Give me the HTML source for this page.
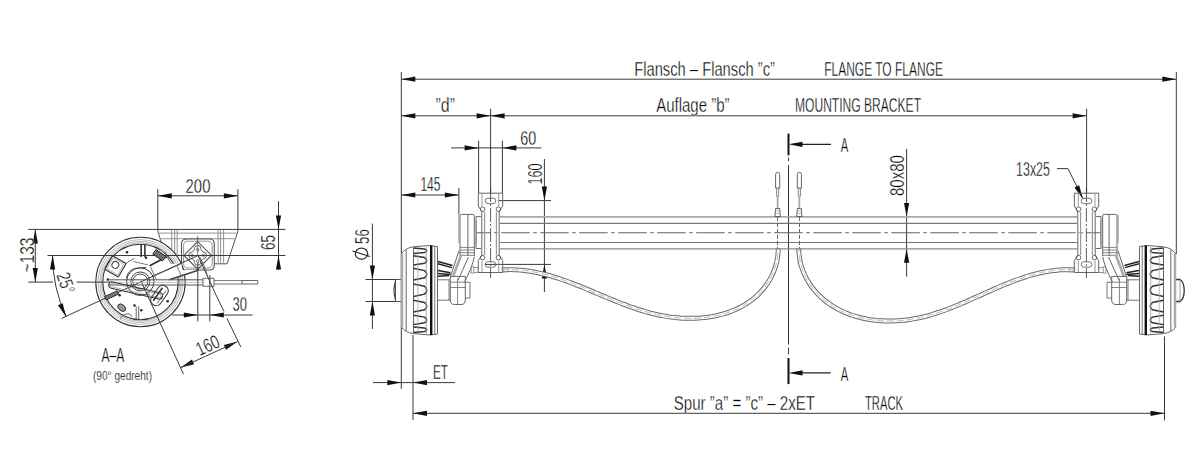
<!DOCTYPE html>
<html><head><meta charset="utf-8"><style>
html,body{margin:0;padding:0;background:#fff;}
svg{display:block;}
text{font-family:"Liberation Sans",sans-serif;fill:#000;stroke:#fff;stroke-width:0.35px;}
</style></head><body>
<svg width="1200" height="470" viewBox="0 0 1200 470" shape-rendering="geometricPrecision">
<rect width="1200" height="470" fill="#fff"/>
<line x1="401.3" y1="79.2" x2="1176.3" y2="79.2" stroke="#3a3a3a" stroke-width="1" />
<polygon points="401.30,79.20 415.30,76.60 415.30,81.80" fill="#111"/>
<polygon points="1176.30,79.20 1162.30,81.80 1162.30,76.60" fill="#111"/>
<line x1="401.3" y1="72" x2="401.3" y2="254" stroke="#3a3a3a" stroke-width="1" />
<line x1="1176.3" y1="72" x2="1176.3" y2="254" stroke="#3a3a3a" stroke-width="1" />
<line x1="401.3" y1="115.8" x2="1086.6" y2="115.8" stroke="#3a3a3a" stroke-width="1" />
<polygon points="401.30,115.80 415.30,113.20 415.30,118.40" fill="#111"/>
<polygon points="490.60,115.80 476.60,118.40 476.60,113.20" fill="#111"/>
<polygon points="490.60,115.80 504.60,113.20 504.60,118.40" fill="#111"/>
<polygon points="1086.60,115.80 1072.60,118.40 1072.60,113.20" fill="#111"/>
<line x1="490.6" y1="108.8" x2="490.6" y2="193" stroke="#3a3a3a" stroke-width="1" />
<line x1="1086.6" y1="108.7" x2="1086.6" y2="193" stroke="#3a3a3a" stroke-width="1" />
<line x1="478.6" y1="140.7" x2="478.6" y2="193" stroke="#3a3a3a" stroke-width="1" />
<line x1="502.4" y1="140.7" x2="502.4" y2="193" stroke="#3a3a3a" stroke-width="1" />
<line x1="451" y1="147.9" x2="541.4" y2="147.9" stroke="#3a3a3a" stroke-width="1" />
<polygon points="478.60,147.90 464.60,150.50 464.60,145.30" fill="#111"/>
<polygon points="502.40,147.90 516.40,145.30 516.40,150.50" fill="#111"/>
<line x1="401.3" y1="195" x2="458.9" y2="195" stroke="#3a3a3a" stroke-width="1" />
<line x1="458.9" y1="188" x2="458.9" y2="214.4" stroke="#3a3a3a" stroke-width="1" />
<polygon points="401.30,195.00 415.30,192.40 415.30,197.60" fill="#111"/>
<polygon points="458.90,195.00 444.90,197.60 444.90,192.40" fill="#111"/>
<line x1="544.4" y1="159" x2="544.4" y2="292" stroke="#3a3a3a" stroke-width="1" />
<line x1="498" y1="200.6" x2="551" y2="200.6" stroke="#3a3a3a" stroke-width="1" />
<line x1="485" y1="264.4" x2="551" y2="264.4" stroke="#3a3a3a" stroke-width="1" />
<polygon points="544.40,200.60 541.80,186.60 547.00,186.60" fill="#111"/>
<polygon points="544.40,264.40 547.00,278.40 541.80,278.40" fill="#111"/>
<line x1="372.4" y1="223.6" x2="372.4" y2="329" stroke="#3a3a3a" stroke-width="1" />
<line x1="365.5" y1="279.5" x2="401" y2="279.5" stroke="#3a3a3a" stroke-width="1" />
<line x1="365.5" y1="301.5" x2="401" y2="301.5" stroke="#3a3a3a" stroke-width="1" />
<polygon points="372.40,279.50 369.80,265.50 375.00,265.50" fill="#111"/>
<polygon points="372.40,301.50 375.00,315.50 369.80,315.50" fill="#111"/>
<ellipse cx="361.5" cy="253.7" rx="6.2" ry="5.6" fill="none" stroke="#2a2a2a" stroke-width="1.2"/>
<line x1="352.5" y1="251" x2="370" y2="256.5" stroke="#2a2a2a" stroke-width="1.2" />
<line x1="401.3" y1="254" x2="401.3" y2="389" stroke="#3a3a3a" stroke-width="1" />
<line x1="413" y1="335" x2="413" y2="420" stroke="#3a3a3a" stroke-width="1" />
<line x1="373" y1="382.6" x2="455" y2="382.6" stroke="#3a3a3a" stroke-width="1" />
<polygon points="401.30,382.60 387.30,385.20 387.30,380.00" fill="#111"/>
<polygon points="413.00,382.60 427.00,380.00 427.00,385.20" fill="#111"/>
<line x1="413" y1="413.3" x2="1164.5" y2="413.3" stroke="#3a3a3a" stroke-width="1" />
<polygon points="413.00,413.30 427.00,410.70 427.00,415.90" fill="#111"/>
<polygon points="1164.50,413.30 1150.50,415.90 1150.50,410.70" fill="#111"/>
<line x1="1164.5" y1="336.4" x2="1164.5" y2="420.4" stroke="#3a3a3a" stroke-width="1" />
<line x1="788.5" y1="133.6" x2="788.5" y2="155.3" stroke="#111" stroke-width="2" />
<line x1="788.5" y1="358" x2="788.5" y2="384.1" stroke="#111" stroke-width="2" />
<line x1="788.5" y1="157.4" x2="788.5" y2="161.3" stroke="#3a3a3a" stroke-width="1" />
<line x1="788.5" y1="165.1" x2="788.5" y2="344.6" stroke="#3a3a3a" stroke-width="1" />
<line x1="788.5" y1="347.6" x2="788.5" y2="354.3" stroke="#3a3a3a" stroke-width="1" />
<line x1="795" y1="144.3" x2="831" y2="144.3" stroke="#222" stroke-width="1.3" />
<polygon points="788.50,144.30 802.50,141.70 802.50,146.90" fill="#111"/>
<line x1="795" y1="372.9" x2="830.8" y2="372.9" stroke="#222" stroke-width="1.3" />
<polygon points="788.50,372.90 802.50,370.30 802.50,375.50" fill="#111"/>
<line x1="906.6" y1="149" x2="906.6" y2="276.7" stroke="#3a3a3a" stroke-width="1" />
<polygon points="906.60,216.90 904.00,202.90 909.20,202.90" fill="#111"/>
<polygon points="906.60,248.70 909.20,262.70 904.00,262.70" fill="#111"/>
<path d="M1057,168.6 L1068,168.6 L1083,199" stroke="#3a3a3a" stroke-width="1" fill="none" />
<polygon points="1083.00,199.00 1074.47,187.60 1079.14,185.29" fill="#111"/>
<path d="M157.8,229.4 L158,232 L168.3,263.8 H227 L237.7,232 L237.9,229.4" stroke="#555" stroke-width="1" fill="none" />
<line x1="158.5" y1="233.1" x2="237.3" y2="233.1" stroke="#aaa" stroke-width="1.2" />
<line x1="160" y1="238.6" x2="235.5" y2="238.6" stroke="#aaa" stroke-width="1.2" />
<line x1="171.7" y1="230" x2="171.7" y2="263.8" stroke="#888" stroke-width="0.9" />
<line x1="174.7" y1="230" x2="174.7" y2="263.8" stroke="#888" stroke-width="0.9" />
<line x1="177.2" y1="230" x2="177.2" y2="263.8" stroke="#888" stroke-width="0.9" />
<line x1="218.1" y1="230" x2="218.1" y2="263.8" stroke="#888" stroke-width="0.9" />
<line x1="220.6" y1="230" x2="220.6" y2="263.8" stroke="#888" stroke-width="0.9" />
<line x1="223.6" y1="230" x2="223.6" y2="263.8" stroke="#888" stroke-width="0.9" />
<path d="M186.5,239 H209.3 Q214.3,239 214.3,244 V265 Q214.3,270 209.3,270 H186.5 Q181.5,270 181.5,265 V244 Q181.5,239 186.5,239 Z" stroke="#555" stroke-width="1.1" fill="#fff" />
<path d="M188,241.2 H208 Q212.2,241.2 212.2,245.4 V263.8 Q212.2,268 208,268 H188 Q183.6,268 183.6,263.8 V245.4 Q183.6,241.2 188,241.2 Z" stroke="#777" stroke-width="0.8" fill="none" />
<path d="M197.7,241.6 L211.5,255.4 L197.7,269.2 L183.9,255.4 Z" stroke="#555" stroke-width="1.1" fill="none" />
<path d="M197.7,245.5 q3.2,0 3.2,3.2 q0,2.2 2.2,3.2 q3.5,0 3.5,3.5 q0,3.5 -3.5,3.5 q-2.2,1 -2.2,3.2 q0,3.2 -3.2,3.2 q-3.2,0 -3.2,-3.2 q0,-2.2 -2.2,-3.2 q-3.5,0 -3.5,-3.5 q0,-3.5 3.5,-3.5 q2.2,-1 2.2,-3.2 q0,-3.2 3.2,-3.2z" stroke="#555" stroke-width="0.9" fill="none" />
<circle cx="197.7" cy="249.70000000000002" r="1.3" fill="none" stroke="#555" stroke-width="0.7"/>
<circle cx="203.39999999999998" cy="255.4" r="1.3" fill="none" stroke="#555" stroke-width="0.7"/>
<circle cx="197.7" cy="261.1" r="1.3" fill="none" stroke="#555" stroke-width="0.7"/>
<circle cx="192.0" cy="255.4" r="1.3" fill="none" stroke="#555" stroke-width="0.7"/>
<line x1="197.7" y1="236" x2="197.7" y2="255.5" stroke="#555" stroke-width="0.8" />
<circle cx="140.5" cy="282" r="44.7" fill="#fff" stroke="#333" stroke-width="1.1"/>
<circle cx="140.5" cy="282" r="42.4" fill="none" stroke="#888" stroke-width="0.6"/>
<circle cx="140.5" cy="282" r="40.6" fill="none" stroke="#888" stroke-width="0.6"/>
<circle cx="140.5" cy="282" r="39.1" fill="none" stroke="#888" stroke-width="0.6"/>
<circle cx="140.5" cy="282" r="37.7" fill="none" stroke="#333" stroke-width="1.1"/>
<path d="M126.3,278.1 Q128,269.5 136,268.3 L146.3,267.4 L149.7,265.7 L166.7,256.8 L171.4,263.8 L181.5,263.8 L181.5,270 L199,270 L169.3,279.8 L154,283 Z" stroke="none" stroke-width="0" fill="#fff" />
<line x1="28.3" y1="229.4" x2="285.4" y2="229.4" stroke="#3a3a3a" stroke-width="1" />
<line x1="47.5" y1="255.5" x2="285.4" y2="255.5" stroke="#3a3a3a" stroke-width="1" />
<line x1="28.3" y1="282.1" x2="53.2" y2="282.1" stroke="#3a3a3a" stroke-width="1" />
<line x1="76.6" y1="282.1" x2="110" y2="282.1" stroke="#3a3a3a" stroke-width="1" />
<line x1="157.8" y1="189.1" x2="157.8" y2="229.4" stroke="#3a3a3a" stroke-width="1" />
<line x1="237.9" y1="189.1" x2="237.9" y2="229.4" stroke="#3a3a3a" stroke-width="1" />
<line x1="157.8" y1="195.8" x2="237.9" y2="195.8" stroke="#3a3a3a" stroke-width="1" />
<polygon points="157.80,195.80 171.80,193.20 171.80,198.40" fill="#111"/>
<polygon points="237.90,195.80 223.90,198.40 223.90,193.20" fill="#111"/>
<line x1="278.5" y1="201.2" x2="278.5" y2="270" stroke="#3a3a3a" stroke-width="1" />
<polygon points="278.50,229.40 275.90,215.40 281.10,215.40" fill="#111"/>
<polygon points="278.50,255.50 281.10,269.50 275.90,269.50" fill="#111"/>
<line x1="35.3" y1="229.4" x2="35.3" y2="282.1" stroke="#3a3a3a" stroke-width="1" />
<polygon points="35.30,229.40 37.90,243.40 32.70,243.40" fill="#111"/>
<polygon points="35.30,282.10 32.70,268.10 37.90,268.10" fill="#111"/>
<path d="M52.60,255.5 A145.4,145.4 0 0 0 66.22,316.95" stroke="#3a3a3a" stroke-width="1" fill="none" />
<polygon points="52.60,255.50 55.20,269.50 50.00,269.50" fill="#111"/>
<polygon points="66.22,316.95 57.95,305.36 62.66,303.16" fill="#111"/>
<path d="M61.5,318.4 L198,255.5" stroke="#3a3a3a" stroke-width="1" fill="none" />
<line x1="141.2" y1="281.5" x2="183.5" y2="374.2" stroke="#3a3a3a" stroke-width="1" />
<line x1="216" y1="295" x2="224" y2="311.5" stroke="#3a3a3a" stroke-width="1" />
<line x1="227" y1="318.5" x2="240.9" y2="347.1" stroke="#3a3a3a" stroke-width="1" />
<line x1="198" y1="255.5" x2="216" y2="295" stroke="#3a3a3a" stroke-width="1" />
<polygon points="180.30,367.80 191.94,359.60 194.11,364.33" fill="#111"/>
<polygon points="237.70,341.50 226.06,349.70 223.89,344.97" fill="#111"/>
<line x1="180.3" y1="367.8" x2="237.7" y2="341.5" stroke="#3a3a3a" stroke-width="1" />
<line x1="197.8" y1="262" x2="197.8" y2="321.5" stroke="#3a3a3a" stroke-width="1" />
<line x1="209.8" y1="275" x2="209.8" y2="321.5" stroke="#3a3a3a" stroke-width="1" />
<line x1="172" y1="315" x2="252.5" y2="315" stroke="#3a3a3a" stroke-width="1" />
<polygon points="197.80,315.00 183.80,317.60 183.80,312.40" fill="#111"/>
<polygon points="209.80,315.00 223.80,312.40 223.80,317.60" fill="#111"/>
<path d="M126.3,278.1 Q128,269.5 136,268.3 L146.3,267.4" stroke="#555" stroke-width="1" fill="none" />
<path d="M149.7,265.7 L166.7,256.8" stroke="#333" stroke-width="1.8" fill="none" />
<path d="M165,251.7 L166.7,256.8 L171.4,263.8" stroke="#555" stroke-width="0.9" fill="none" />
<path d="M152.2,276.4 L180.3,264" stroke="#555" stroke-width="1.1" fill="none" />
<path d="M150.5,266.6 L156,279 M176.9,265.7 L181.2,275.5" stroke="#555" stroke-width="0.8" fill="none" />
<path d="M169.3,279.8 L199,270" stroke="#444" stroke-width="1.6" fill="none" />
<circle cx="140.3" cy="281.5" r="13.7" fill="none" stroke="#333" stroke-width="1"/>
<circle cx="140.3" cy="281.5" r="9.5" fill="none" stroke="#333" stroke-width="0.9"/>
<circle cx="140.3" cy="281.5" r="7.5" fill="none" stroke="#333" stroke-width="0.9"/>
<path d="M134.4,258.5 Q124,262 118.5,275" stroke="#555" stroke-width="0.9" fill="none" />
<path d="M133.5,261.5 L148,264.9" stroke="#555" stroke-width="0.8" fill="none" />
<g transform="translate(115.4,266.4) rotate(30)"><rect x="-7.8" y="-7.8" width="15.6" height="15.6" rx="1" fill="#fff" stroke="#333" stroke-width="1.1"/><rect x="-6.3" y="-6.3" width="12.6" height="12.6" fill="none" stroke="#888" stroke-width="0.6"/><circle cx="-0.8" cy="-1.3" r="3.4" fill="none" stroke="#333" stroke-width="1"/></g>
<path d="M141.2,244.3 V257 M144.9,244.3 V257" stroke="#333" stroke-width="1.6" fill="none" />
<circle cx="146" cy="257.8" r="1.25" fill="#222"/>
<circle cx="127" cy="252.2" r="1.25" fill="#222"/>
<circle cx="107.9" cy="279.4" r="1.25" fill="#222"/>
<circle cx="119.6" cy="295.3" r="1.25" fill="#222"/>
<circle cx="167.7" cy="301.3" r="1.25" fill="#222"/>
<circle cx="134.5" cy="305.5" r="1.25" fill="#222"/>
<circle cx="141.3" cy="310.2" r="1.25" fill="#222"/>
<g transform="translate(159.3,255.2) rotate(35)"><rect x="-6" y="-2.8" width="12" height="5.6" fill="#888" stroke="#222" stroke-width="0.9"/><path d="M-4,-2.8 V2.8 M-2,-2.8 V2.8 M0,-2.8 V2.8 M2,-2.8 V2.8 M4,-2.8 V2.8" stroke="#333" stroke-width="0.7"/></g>
<g transform="translate(111.7,295.3) rotate(-25)"><rect x="-7" y="-1.8" width="14" height="3.6" fill="#777" stroke="#222" stroke-width="0.8"/></g>
<g transform="translate(121.7,307.7) rotate(40)"><ellipse rx="4.4" ry="3" fill="#999" stroke="#222" stroke-width="0.9"/></g>
<path d="M136.2,306.4 V320 M138.7,306.4 V320" stroke="#555" stroke-width="0.9" fill="none" />
<path d="M120,318.5 Q124,313.5 128,313.6 Q131,314 132,317" stroke="#555" stroke-width="0.9" fill="none" />
<path d="M108,279.8 H203 M108,285 H203" stroke="#555" stroke-width="1" fill="none" />
<line x1="110" y1="282.4" x2="203" y2="282.4" stroke="#aaa" stroke-width="0.7" />
<path d="M203,278.3 H214 V286.3 H203 Z" stroke="#555" stroke-width="0.9" fill="none" />
<path d="M214,280.6 H242 M214,284 H242" stroke="#555" stroke-width="0.8" fill="none" />
<path d="M242,280.5 H257.8 V284 H242 Z" stroke="#555" stroke-width="0.9" fill="none" />
<g transform="translate(135.7,290.5) rotate(13)"><rect x="-27.5" y="-3.2" width="55" height="6.4" rx="3.2" fill="none" stroke="#333" stroke-width="1"/><rect x="-26" y="-1.8" width="52" height="3.6" rx="1.8" fill="none" stroke="#888" stroke-width="0.6"/></g>
<g transform="translate(159.5,295.5) rotate(-55)"><rect x="-11" y="-5.5" width="22" height="11" rx="5" fill="none" stroke="#333" stroke-width="1"/><line x1="-8" y1="-2" x2="8" y2="-2" stroke="#333" stroke-width="1.6"/><line x1="-8" y1="2.5" x2="8" y2="2.5" stroke="#555" stroke-width="0.8"/></g>
<path d="M132.3,292.8 Q138,297.5 150,294" stroke="#555" stroke-width="0.9" fill="none" />
<path d="M199.5,256.5 Q205,265 207.5,277" stroke="#555" stroke-width="0.9" fill="none" />
<path d="M501.8,269.8 L504.9,269.7 L507.9,269.6 L511.0,269.6 L514.0,269.7 L516.9,269.9 L519.9,270.1 L522.8,270.4 L525.8,270.7 L528.7,271.1 L531.6,271.6 L534.5,272.1 L537.3,272.7 L540.2,273.3 L543.0,274.0 L545.9,274.7 L548.7,275.4 L551.5,276.2 L554.3,277.1 L557.1,277.9 L559.8,278.8 L562.6,279.8 L565.4,280.7 L568.1,281.7 L570.9,282.8 L573.6,283.8 L576.3,284.9 L579.1,285.9 L581.8,287.0 L584.5,288.1 L587.2,289.3 L590.0,290.4 L592.7,291.5 L595.4,292.7 L598.1,293.8 L600.8,295.0 L603.6,296.1 L606.3,297.3 L609.0,298.4 L611.7,299.5 L614.5,300.6 L617.2,301.7 L620.0,302.8 L622.7,303.9 L625.5,304.9 L628.2,306.0 L631.0,307.0 L633.8,307.9 L636.6,308.9 L639.4,309.8 L642.2,310.7 L645.0,311.5 L647.9,312.3 L650.7,313.1 L653.6,313.8 L656.5,314.5 L659.4,315.1 L662.3,315.7 L665.2,316.2 L668.1,316.7 L671.1,317.1 L674.1,317.4 L677.0,317.7 L680.0,318.0 L683.0,318.2 L686.0,318.3 L689.0,318.3 L692.0,318.3 L695.0,318.3 L698.0,318.1 L701.0,317.9 L704.0,317.6 L706.9,317.3 L709.8,316.9 L712.7,316.4 L715.6,315.8 L718.5,315.2 L721.3,314.5 L724.1,313.7 L726.9,312.8 L729.6,311.9 L732.3,310.8 L735.0,309.7 L737.6,308.5 L740.2,307.3 L742.7,305.9 L745.1,304.5 L747.5,302.9 L749.9,301.3 L752.2,299.6 L754.4,297.8 L756.6,295.9 L758.7,293.9 L760.7,291.8 L762.6,289.6 L764.5,287.4 L766.2,285.1 L767.9,282.7 L769.4,280.2 L770.9,277.6 L772.2,275.0 L773.4,272.3 L774.5,269.5 L775.5,266.6 L776.3,263.7 L777.0,260.7 L777.5,257.6 L777.9,254.5 L778.2,251.3 L778.2,248.1" stroke="#6a6a6a" stroke-width="4.9" fill="none" />
<path d="M501.8,269.8 L504.9,269.7 L507.9,269.6 L511.0,269.6 L514.0,269.7 L516.9,269.9 L519.9,270.1 L522.8,270.4 L525.8,270.7 L528.7,271.1 L531.6,271.6 L534.5,272.1 L537.3,272.7 L540.2,273.3 L543.0,274.0 L545.9,274.7 L548.7,275.4 L551.5,276.2 L554.3,277.1 L557.1,277.9 L559.8,278.8 L562.6,279.8 L565.4,280.7 L568.1,281.7 L570.9,282.8 L573.6,283.8 L576.3,284.9 L579.1,285.9 L581.8,287.0 L584.5,288.1 L587.2,289.3 L590.0,290.4 L592.7,291.5 L595.4,292.7 L598.1,293.8 L600.8,295.0 L603.6,296.1 L606.3,297.3 L609.0,298.4 L611.7,299.5 L614.5,300.6 L617.2,301.7 L620.0,302.8 L622.7,303.9 L625.5,304.9 L628.2,306.0 L631.0,307.0 L633.8,307.9 L636.6,308.9 L639.4,309.8 L642.2,310.7 L645.0,311.5 L647.9,312.3 L650.7,313.1 L653.6,313.8 L656.5,314.5 L659.4,315.1 L662.3,315.7 L665.2,316.2 L668.1,316.7 L671.1,317.1 L674.1,317.4 L677.0,317.7 L680.0,318.0 L683.0,318.2 L686.0,318.3 L689.0,318.3 L692.0,318.3 L695.0,318.3 L698.0,318.1 L701.0,317.9 L704.0,317.6 L706.9,317.3 L709.8,316.9 L712.7,316.4 L715.6,315.8 L718.5,315.2 L721.3,314.5 L724.1,313.7 L726.9,312.8 L729.6,311.9 L732.3,310.8 L735.0,309.7 L737.6,308.5 L740.2,307.3 L742.7,305.9 L745.1,304.5 L747.5,302.9 L749.9,301.3 L752.2,299.6 L754.4,297.8 L756.6,295.9 L758.7,293.9 L760.7,291.8 L762.6,289.6 L764.5,287.4 L766.2,285.1 L767.9,282.7 L769.4,280.2 L770.9,277.6 L772.2,275.0 L773.4,272.3 L774.5,269.5 L775.5,266.6 L776.3,263.7 L777.0,260.7 L777.5,257.6 L777.9,254.5 L778.2,251.3 L778.2,248.1" stroke="#fff" stroke-width="2.9" fill="none" />
<path d="M501.8,269.8 L504.9,269.7 L507.9,269.6 L511.0,269.6 L514.0,269.7 L516.9,269.9 L519.9,270.1 L522.8,270.4 L525.8,270.7 L528.7,271.1 L531.6,271.6 L534.5,272.1 L537.3,272.7 L540.2,273.3 L543.0,274.0 L545.9,274.7 L548.7,275.4 L551.5,276.2 L554.3,277.1 L557.1,277.9 L559.8,278.8 L562.6,279.8 L565.4,280.7 L568.1,281.7 L570.9,282.8 L573.6,283.8 L576.3,284.9 L579.1,285.9 L581.8,287.0 L584.5,288.1 L587.2,289.3 L590.0,290.4 L592.7,291.5 L595.4,292.7 L598.1,293.8 L600.8,295.0 L603.6,296.1 L606.3,297.3 L609.0,298.4 L611.7,299.5 L614.5,300.6 L617.2,301.7 L620.0,302.8 L622.7,303.9 L625.5,304.9 L628.2,306.0 L631.0,307.0 L633.8,307.9 L636.6,308.9 L639.4,309.8 L642.2,310.7 L645.0,311.5 L647.9,312.3 L650.7,313.1 L653.6,313.8 L656.5,314.5 L659.4,315.1 L662.3,315.7 L665.2,316.2 L668.1,316.7 L671.1,317.1 L674.1,317.4 L677.0,317.7 L680.0,318.0 L683.0,318.2 L686.0,318.3 L689.0,318.3 L692.0,318.3 L695.0,318.3 L698.0,318.1 L701.0,317.9 L704.0,317.6 L706.9,317.3 L709.8,316.9 L712.7,316.4 L715.6,315.8 L718.5,315.2 L721.3,314.5 L724.1,313.7 L726.9,312.8 L729.6,311.9 L732.3,310.8 L735.0,309.7 L737.6,308.5 L740.2,307.3 L742.7,305.9 L745.1,304.5 L747.5,302.9 L749.9,301.3 L752.2,299.6 L754.4,297.8 L756.6,295.9 L758.7,293.9 L760.7,291.8 L762.6,289.6 L764.5,287.4 L766.2,285.1 L767.9,282.7 L769.4,280.2 L770.9,277.6 L772.2,275.0 L773.4,272.3 L774.5,269.5 L775.5,266.6 L776.3,263.7 L777.0,260.7 L777.5,257.6 L777.9,254.5 L778.2,251.3 L778.2,248.1" stroke="#aaa" stroke-width="0.8" fill="none" stroke-dasharray="7 3"/>
<path d="M1075.2,269.8 L1072.1,269.7 L1069.1,269.6 L1066.0,269.7 L1063.0,269.8 L1060.1,269.9 L1057.1,270.2 L1054.2,270.5 L1051.2,270.9 L1048.3,271.3 L1045.4,271.8 L1042.5,272.4 L1039.7,273.0 L1036.8,273.7 L1034.0,274.4 L1031.1,275.2 L1028.3,276.0 L1025.5,276.9 L1022.7,277.8 L1019.9,278.7 L1017.2,279.7 L1014.4,280.7 L1011.6,281.8 L1008.9,282.9 L1006.1,284.0 L1003.4,285.1 L1000.7,286.2 L997.9,287.4 L995.2,288.6 L992.5,289.8 L989.8,291.0 L987.0,292.2 L984.3,293.4 L981.6,294.7 L978.9,295.9 L976.2,297.1 L973.4,298.3 L970.7,299.6 L968.0,300.8 L965.3,302.0 L962.5,303.1 L959.8,304.3 L957.0,305.4 L954.3,306.6 L951.5,307.7 L948.8,308.7 L946.0,309.8 L943.2,310.8 L940.4,311.8 L937.6,312.7 L934.8,313.6 L932.0,314.5 L929.1,315.3 L926.3,316.1 L923.4,316.8 L920.5,317.5 L917.6,318.1 L914.7,318.6 L911.8,319.2 L908.9,319.6 L905.9,320.0 L902.9,320.3 L900.0,320.6 L897.0,320.8 L894.0,320.9 L891.0,321.0 L888.0,321.0 L885.0,321.0 L882.0,320.8 L879.0,320.6 L876.0,320.4 L873.0,320.0 L870.1,319.6 L867.2,319.1 L864.3,318.5 L861.4,317.9 L858.5,317.2 L855.7,316.4 L852.9,315.5 L850.1,314.6 L847.4,313.5 L844.7,312.4 L842.0,311.2 L839.4,309.9 L836.8,308.6 L834.3,307.1 L831.9,305.6 L829.5,304.0 L827.1,302.3 L824.8,300.5 L822.6,298.6 L820.4,296.6 L818.3,294.5 L816.3,292.4 L814.4,290.2 L812.5,287.9 L810.8,285.5 L809.1,283.0 L807.6,280.5 L806.1,277.9 L804.8,275.2 L803.6,272.4 L802.5,269.6 L801.5,266.7 L800.7,263.8 L800.0,260.7 L799.5,257.7 L799.1,254.5 L798.8,251.3 L798.8,248.1" stroke="#6a6a6a" stroke-width="4.9" fill="none" />
<path d="M1075.2,269.8 L1072.1,269.7 L1069.1,269.6 L1066.0,269.7 L1063.0,269.8 L1060.1,269.9 L1057.1,270.2 L1054.2,270.5 L1051.2,270.9 L1048.3,271.3 L1045.4,271.8 L1042.5,272.4 L1039.7,273.0 L1036.8,273.7 L1034.0,274.4 L1031.1,275.2 L1028.3,276.0 L1025.5,276.9 L1022.7,277.8 L1019.9,278.7 L1017.2,279.7 L1014.4,280.7 L1011.6,281.8 L1008.9,282.9 L1006.1,284.0 L1003.4,285.1 L1000.7,286.2 L997.9,287.4 L995.2,288.6 L992.5,289.8 L989.8,291.0 L987.0,292.2 L984.3,293.4 L981.6,294.7 L978.9,295.9 L976.2,297.1 L973.4,298.3 L970.7,299.6 L968.0,300.8 L965.3,302.0 L962.5,303.1 L959.8,304.3 L957.0,305.4 L954.3,306.6 L951.5,307.7 L948.8,308.7 L946.0,309.8 L943.2,310.8 L940.4,311.8 L937.6,312.7 L934.8,313.6 L932.0,314.5 L929.1,315.3 L926.3,316.1 L923.4,316.8 L920.5,317.5 L917.6,318.1 L914.7,318.6 L911.8,319.2 L908.9,319.6 L905.9,320.0 L902.9,320.3 L900.0,320.6 L897.0,320.8 L894.0,320.9 L891.0,321.0 L888.0,321.0 L885.0,321.0 L882.0,320.8 L879.0,320.6 L876.0,320.4 L873.0,320.0 L870.1,319.6 L867.2,319.1 L864.3,318.5 L861.4,317.9 L858.5,317.2 L855.7,316.4 L852.9,315.5 L850.1,314.6 L847.4,313.5 L844.7,312.4 L842.0,311.2 L839.4,309.9 L836.8,308.6 L834.3,307.1 L831.9,305.6 L829.5,304.0 L827.1,302.3 L824.8,300.5 L822.6,298.6 L820.4,296.6 L818.3,294.5 L816.3,292.4 L814.4,290.2 L812.5,287.9 L810.8,285.5 L809.1,283.0 L807.6,280.5 L806.1,277.9 L804.8,275.2 L803.6,272.4 L802.5,269.6 L801.5,266.7 L800.7,263.8 L800.0,260.7 L799.5,257.7 L799.1,254.5 L798.8,251.3 L798.8,248.1" stroke="#fff" stroke-width="2.9" fill="none" />
<path d="M1075.2,269.8 L1072.1,269.7 L1069.1,269.6 L1066.0,269.7 L1063.0,269.8 L1060.1,269.9 L1057.1,270.2 L1054.2,270.5 L1051.2,270.9 L1048.3,271.3 L1045.4,271.8 L1042.5,272.4 L1039.7,273.0 L1036.8,273.7 L1034.0,274.4 L1031.1,275.2 L1028.3,276.0 L1025.5,276.9 L1022.7,277.8 L1019.9,278.7 L1017.2,279.7 L1014.4,280.7 L1011.6,281.8 L1008.9,282.9 L1006.1,284.0 L1003.4,285.1 L1000.7,286.2 L997.9,287.4 L995.2,288.6 L992.5,289.8 L989.8,291.0 L987.0,292.2 L984.3,293.4 L981.6,294.7 L978.9,295.9 L976.2,297.1 L973.4,298.3 L970.7,299.6 L968.0,300.8 L965.3,302.0 L962.5,303.1 L959.8,304.3 L957.0,305.4 L954.3,306.6 L951.5,307.7 L948.8,308.7 L946.0,309.8 L943.2,310.8 L940.4,311.8 L937.6,312.7 L934.8,313.6 L932.0,314.5 L929.1,315.3 L926.3,316.1 L923.4,316.8 L920.5,317.5 L917.6,318.1 L914.7,318.6 L911.8,319.2 L908.9,319.6 L905.9,320.0 L902.9,320.3 L900.0,320.6 L897.0,320.8 L894.0,320.9 L891.0,321.0 L888.0,321.0 L885.0,321.0 L882.0,320.8 L879.0,320.6 L876.0,320.4 L873.0,320.0 L870.1,319.6 L867.2,319.1 L864.3,318.5 L861.4,317.9 L858.5,317.2 L855.7,316.4 L852.9,315.5 L850.1,314.6 L847.4,313.5 L844.7,312.4 L842.0,311.2 L839.4,309.9 L836.8,308.6 L834.3,307.1 L831.9,305.6 L829.5,304.0 L827.1,302.3 L824.8,300.5 L822.6,298.6 L820.4,296.6 L818.3,294.5 L816.3,292.4 L814.4,290.2 L812.5,287.9 L810.8,285.5 L809.1,283.0 L807.6,280.5 L806.1,277.9 L804.8,275.2 L803.6,272.4 L802.5,269.6 L801.5,266.7 L800.7,263.8 L800.0,260.7 L799.5,257.7 L799.1,254.5 L798.8,251.3 L798.8,248.1" stroke="#aaa" stroke-width="0.8" fill="none" stroke-dasharray="7 3"/>
<path d="M401,279.5 H395.5 V301.5 H401" stroke="#555" stroke-width="1" fill="none" />
<path d="M395.5,281 Q392.5,290.5 395.5,300" stroke="#444" stroke-width="1.2" fill="none" />
<path d="M1176,279.5 H1180 Q1184.2,282 1184.2,290.5 Q1184.2,299 1180,301.5 H1176" stroke="#333" stroke-width="1.3" fill="none" />
<path d="M1180,280 V301" stroke="#888" stroke-width="0.8" fill="none" /><text x="634.2" y="75.6" font-size="19.3" textLength="140.79999999999995" lengthAdjust="spacingAndGlyphs" >Flansch – Flansch ”c”</text>
<text x="824.2" y="75.6" font-size="19.3" textLength="118.79999999999995" lengthAdjust="spacingAndGlyphs" >FLANGE TO FLANGE</text>
<text x="435.5" y="111.8" font-size="19.3" textLength="19.5" lengthAdjust="spacingAndGlyphs" >”d”</text>
<text x="656.2" y="111.9" font-size="19.3" textLength="73.29999999999995" lengthAdjust="spacingAndGlyphs" >Auflage ”b”</text>
<text x="795" y="111.9" font-size="19.3" textLength="126" lengthAdjust="spacingAndGlyphs" >MOUNTING BRACKET</text>
<text x="520.2" y="144.7" font-size="19.3" textLength="16.0" lengthAdjust="spacingAndGlyphs" >60</text>
<text x="420.4" y="190.6" font-size="19.3" textLength="20.0" lengthAdjust="spacingAndGlyphs" >145</text>
<g transform="translate(535.3,174.1) rotate(-90)"><text x="-10.5" y="6.948" font-size="19.3" textLength="21" lengthAdjust="spacingAndGlyphs" >160</text></g>
<g transform="translate(362.2,236.5) rotate(-90)"><text x="-7.4" y="6.948" font-size="19.3" textLength="14.8" lengthAdjust="spacingAndGlyphs" >56</text></g>
<text x="433" y="379.4" font-size="19.3" textLength="15" lengthAdjust="spacingAndGlyphs" >ET</text>
<text x="673.75" y="410" font-size="19.3" textLength="141.25" lengthAdjust="spacingAndGlyphs" >Spur ”a” = ”c” – 2xET</text>
<text x="865" y="410" font-size="19.3" textLength="38" lengthAdjust="spacingAndGlyphs" >TRACK</text>
<text x="840.7" y="151.5" font-size="19.3" textLength="7.5" lengthAdjust="spacingAndGlyphs" >A</text>
<text x="840.7" y="380.7" font-size="19.3" textLength="7.5" lengthAdjust="spacingAndGlyphs" >A</text>
<g transform="translate(896.6,175.5) rotate(-90)"><text x="-20.5" y="6.948" font-size="19.3" textLength="41" lengthAdjust="spacingAndGlyphs" >80x80</text></g>
<text x="1016" y="176" font-size="19.3" textLength="34" lengthAdjust="spacingAndGlyphs" >13x25</text>
<text x="185.6" y="192.5" font-size="19.3" textLength="24.80000000000001" lengthAdjust="spacingAndGlyphs" >200</text>
<g transform="translate(267.8,242.5) rotate(-90)"><text x="-7.5" y="6.948" font-size="19.3" textLength="15" lengthAdjust="spacingAndGlyphs" >65</text></g>
<g transform="translate(27.5,255) rotate(-90)"><text x="-17.5" y="6.948" font-size="19.3" textLength="35" lengthAdjust="spacingAndGlyphs" >~133</text></g>
<g transform="translate(66.2,282.8) rotate(72)"><text x="-10.5" y="6.948" font-size="19.3" textLength="21" lengthAdjust="spacingAndGlyphs" >25°</text></g>
<g transform="translate(207.5,345) rotate(-24.6)"><text x="-12.0" y="6.948" font-size="19.3" textLength="24" lengthAdjust="spacingAndGlyphs" >160</text></g>
<text x="232.5" y="311" font-size="19.3" textLength="14.5" lengthAdjust="spacingAndGlyphs" >30</text>
<text x="101.5" y="362.2" font-size="19.3" textLength="22.900000000000006" lengthAdjust="spacingAndGlyphs" >A–A</text>
<text x="93" y="379.8" font-size="12.6" textLength="59" lengthAdjust="spacingAndGlyphs" style="fill:#333;stroke-width:0.1px">(90° gedreht)</text>
<g><line x1="500" y1="216.9" x2="788.5" y2="216.9" stroke="#aaa" stroke-width="1.8" />
<line x1="500" y1="223.4" x2="788.5" y2="223.4" stroke="#777" stroke-width="1.1" />
<line x1="500" y1="242.5" x2="788.5" y2="242.5" stroke="#777" stroke-width="1.1" />
<line x1="500" y1="248.8" x2="788.5" y2="248.8" stroke="#888" stroke-width="1.2" />
<path d="M476,232.8 L788.5,232.8" stroke="#666" stroke-width="1.1" fill="none" stroke-dasharray="28.5 3.4 3.7 3.4" stroke-dashoffset="13.8"/>
<path d="M476,216.6 H481 M476,216.6 V248.5 H481" stroke="#666" stroke-width="1" fill="none" />
<path d="M478.3,193.2 H502.7 V206 L499.2,211.5 V255.5 L502.7,260.5 V272.5 H478.3 V260.5 L481.8,255.5 V211.5 L478.3,206 Z" stroke="#666" stroke-width="1" fill="none" />
<circle cx="482.6" cy="209.2" r="2.3" fill="none" stroke="#444" stroke-width="0.8"/>
<circle cx="498.4" cy="209.2" r="2.3" fill="none" stroke="#444" stroke-width="0.8"/>
<circle cx="482.6" cy="257.6" r="2.3" fill="none" stroke="#444" stroke-width="0.8"/>
<circle cx="498.4" cy="257.6" r="2.3" fill="none" stroke="#444" stroke-width="0.8"/>
<path d="M482,194 V206 M498.7,194 V206 M482,261 V272 M498.7,261 V272" stroke="#999" stroke-width="1" fill="none" />
<path d="M484.6,212 V255 M496.4,212 V255" stroke="#999" stroke-width="1.2" fill="none" />
<path d="M487.9,198.2 H493.1 A2.7,2.7 0 0 1 493.1,203.6 H487.9 A2.7,2.7 0 0 1 487.9,198.2 Z" stroke="#666" stroke-width="0.9" fill="none" />
<path d="M487.9,261.8 H493.1 A2.7,2.7 0 0 1 493.1,267.2 H487.9 A2.7,2.7 0 0 1 487.9,261.8 Z" stroke="#666" stroke-width="0.9" fill="none" />
<path d="M490.6,188 V278" stroke="#333" stroke-width="0.8" fill="none" stroke-dasharray="14 2 2 2"/>
<path d="M460,256 V215.9 Q460,214.4 461.5,214.4 H472.8 Q474.3,214.4 474.3,215.9 V256 M467.9,214.4 V256" stroke="#666" stroke-width="1" fill="none" />
<path d="M474.3,221.3 H476.4 V243.1 H474.3" stroke="#888" stroke-width="0.8" fill="none" />
<line x1="458.9" y1="214.4" x2="458.9" y2="243.1" stroke="#999" stroke-width="1.1" />
<path d="M460,247.4 H474.3 M460,250 H474.3 M460,252.7 H474.3 M460,255.3 H474.3" stroke="#666" stroke-width="0.8" fill="none" />
<path d="M458.9,250.9 L450.4,276.9 M468.4,257.2 L457.8,280.6 M474.3,256.7 Q472,268 464.7,281.7" stroke="#666" stroke-width="1" fill="none" />
<path d="M461,255.5 L453.2,276" stroke="#aaa" stroke-width="2.6" fill="none" />
<path d="M450.3,276.4 H465.3 V300 Q465.3,304.5 461,304.5 H454.5 Q450.3,304.5 450.3,300 Z" stroke="#666" stroke-width="1" fill="none" />
<path d="M457.6,278.5 V304.5 M450.3,282.2 H465.3 M450.3,287.5 H465.3" stroke="#666" stroke-width="0.8" fill="none" />
<path d="M465.3,282.3 H470 V298.1 H465.3" stroke="#666" stroke-width="0.9" fill="none" />
<path d="M437.9,279.8 H450.3 M437.9,300.2 H450.3 M449,279.8 V300.2" stroke="#666" stroke-width="0.9" fill="none" />
<path d="M471.1,266.8 H473.8 V273.2 H471.1 Z M473.8,267.5 H478.3 V272.5 H473.8" stroke="#888" stroke-width="0.9" fill="none" />
<path d="M438,261.5 L452.5,265.5 M438,263.8 L452,267.6 M438,270.5 L450.5,272.8 M438,273.5 L450.5,274.5 M438,276.2 L449,275.5" stroke="#222" stroke-width="1.4" fill="none" />
<path d="M401.3,254 Q405,248 413.5,246.8 L430,245.5 L437.5,246.5 V334 L430,335 L413.5,333.6 Q405,332.5 401.3,327" stroke="#666" stroke-width="1" fill="none" />
<line x1="402" y1="254" x2="402" y2="327" stroke="#aaa" stroke-width="2.5" />
<line x1="406.2" y1="250" x2="406.2" y2="331" stroke="#666" stroke-width="1" />
<line x1="413.5" y1="247.5" x2="413.5" y2="333" stroke="#666" stroke-width="1" />
<line x1="431.2" y1="245.5" x2="431.2" y2="335" stroke="#111" stroke-width="2.4" />
<line x1="434.8" y1="246" x2="434.8" y2="335" stroke="#666" stroke-width="0.9" />
<path d="M413.5,247.92 L424.5,248.97 Q429,250.69 424.5,252.41 L413.5,253.46 M413.5,255.78 L424.5,257.54 Q429,260.42 424.5,263.29 L413.5,265.05 M413.5,268.35 L424.5,270.58 Q429,274.22 424.5,277.86 L413.5,280.09 M413.5,283.90 L424.5,286.29 Q429,290.20 424.5,294.11 L413.5,296.50 M413.5,300.31 L424.5,302.54 Q429,306.18 424.5,309.82 L413.5,312.05 M413.5,315.35 L424.5,317.11 Q429,319.98 424.5,322.86 L413.5,324.62 M413.5,326.94 L424.5,327.99 Q429,329.71 424.5,331.43 L413.5,332.48 " stroke="#333" stroke-width="1.5" fill="none" />
<line x1="417.8" y1="250" x2="417.8" y2="331" stroke="#aaa" stroke-width="0.8" />
<line x1="426.3" y1="247" x2="426.3" y2="334" stroke="#999" stroke-width="0.8" />
<path d="M503,267.6 H508 V272 H503 Z" stroke="#999" stroke-width="0.7" fill="none" />
<path d="M777.5,216.9 V248.7" stroke="#666" stroke-width="1" fill="none" stroke-dasharray="4 2"/>
<path d="M775.6,188.1 V174.4 A2.05,2.05 0 0 1 779.7,174.4 V188.1 Z" stroke="#555" stroke-width="0.9" fill="none" />
<path d="M776.6,188.1 V196.3 H778.7 V188.1" stroke="#666" stroke-width="0.8" fill="none" />
<line x1="777.65" y1="196.3" x2="777.65" y2="208" stroke="#aaa" stroke-width="1.8" />
<path d="M775.6,208.5 H779.7 L780.3,216.5 H775 Z" stroke="#555" stroke-width="0.9" fill="none" />
<path d="M775.5,211 H779.8 M775.3,213.5 H780" stroke="#888" stroke-width="0.6" fill="none" /></g>
<g transform="translate(1577,0) scale(-1,1)"><line x1="500" y1="216.9" x2="788.5" y2="216.9" stroke="#aaa" stroke-width="1.8" />
<line x1="500" y1="223.4" x2="788.5" y2="223.4" stroke="#777" stroke-width="1.1" />
<line x1="500" y1="242.5" x2="788.5" y2="242.5" stroke="#777" stroke-width="1.1" />
<line x1="500" y1="248.8" x2="788.5" y2="248.8" stroke="#888" stroke-width="1.2" />
<path d="M476,232.8 L788.5,232.8" stroke="#666" stroke-width="1.1" fill="none" stroke-dasharray="28.5 3.4 3.7 3.4" stroke-dashoffset="13.8"/>
<path d="M476,216.6 H481 M476,216.6 V248.5 H481" stroke="#666" stroke-width="1" fill="none" />
<path d="M478.3,193.2 H502.7 V206 L499.2,211.5 V255.5 L502.7,260.5 V272.5 H478.3 V260.5 L481.8,255.5 V211.5 L478.3,206 Z" stroke="#666" stroke-width="1" fill="none" />
<circle cx="482.6" cy="209.2" r="2.3" fill="none" stroke="#444" stroke-width="0.8"/>
<circle cx="498.4" cy="209.2" r="2.3" fill="none" stroke="#444" stroke-width="0.8"/>
<circle cx="482.6" cy="257.6" r="2.3" fill="none" stroke="#444" stroke-width="0.8"/>
<circle cx="498.4" cy="257.6" r="2.3" fill="none" stroke="#444" stroke-width="0.8"/>
<path d="M482,194 V206 M498.7,194 V206 M482,261 V272 M498.7,261 V272" stroke="#999" stroke-width="1" fill="none" />
<path d="M484.6,212 V255 M496.4,212 V255" stroke="#999" stroke-width="1.2" fill="none" />
<path d="M487.9,198.2 H493.1 A2.7,2.7 0 0 1 493.1,203.6 H487.9 A2.7,2.7 0 0 1 487.9,198.2 Z" stroke="#666" stroke-width="0.9" fill="none" />
<path d="M487.9,261.8 H493.1 A2.7,2.7 0 0 1 493.1,267.2 H487.9 A2.7,2.7 0 0 1 487.9,261.8 Z" stroke="#666" stroke-width="0.9" fill="none" />
<path d="M490.6,188 V278" stroke="#333" stroke-width="0.8" fill="none" stroke-dasharray="14 2 2 2"/>
<path d="M460,256 V215.9 Q460,214.4 461.5,214.4 H472.8 Q474.3,214.4 474.3,215.9 V256 M467.9,214.4 V256" stroke="#666" stroke-width="1" fill="none" />
<path d="M474.3,221.3 H476.4 V243.1 H474.3" stroke="#888" stroke-width="0.8" fill="none" />
<line x1="458.9" y1="214.4" x2="458.9" y2="243.1" stroke="#999" stroke-width="1.1" />
<path d="M460,247.4 H474.3 M460,250 H474.3 M460,252.7 H474.3 M460,255.3 H474.3" stroke="#666" stroke-width="0.8" fill="none" />
<path d="M458.9,250.9 L450.4,276.9 M468.4,257.2 L457.8,280.6 M474.3,256.7 Q472,268 464.7,281.7" stroke="#666" stroke-width="1" fill="none" />
<path d="M461,255.5 L453.2,276" stroke="#aaa" stroke-width="2.6" fill="none" />
<path d="M450.3,276.4 H465.3 V300 Q465.3,304.5 461,304.5 H454.5 Q450.3,304.5 450.3,300 Z" stroke="#666" stroke-width="1" fill="none" />
<path d="M457.6,278.5 V304.5 M450.3,282.2 H465.3 M450.3,287.5 H465.3" stroke="#666" stroke-width="0.8" fill="none" />
<path d="M465.3,282.3 H470 V298.1 H465.3" stroke="#666" stroke-width="0.9" fill="none" />
<path d="M437.9,279.8 H450.3 M437.9,300.2 H450.3 M449,279.8 V300.2" stroke="#666" stroke-width="0.9" fill="none" />
<path d="M471.1,266.8 H473.8 V273.2 H471.1 Z M473.8,267.5 H478.3 V272.5 H473.8" stroke="#888" stroke-width="0.9" fill="none" />
<path d="M438,261.5 L452.5,265.5 M438,263.8 L452,267.6 M438,270.5 L450.5,272.8 M438,273.5 L450.5,274.5 M438,276.2 L449,275.5" stroke="#222" stroke-width="1.4" fill="none" />
<path d="M401.3,254 Q405,248 413.5,246.8 L430,245.5 L437.5,246.5 V334 L430,335 L413.5,333.6 Q405,332.5 401.3,327" stroke="#666" stroke-width="1" fill="none" />
<line x1="402" y1="254" x2="402" y2="327" stroke="#aaa" stroke-width="2.5" />
<line x1="406.2" y1="250" x2="406.2" y2="331" stroke="#666" stroke-width="1" />
<line x1="413.5" y1="247.5" x2="413.5" y2="333" stroke="#666" stroke-width="1" />
<line x1="431.2" y1="245.5" x2="431.2" y2="335" stroke="#111" stroke-width="2.4" />
<line x1="434.8" y1="246" x2="434.8" y2="335" stroke="#666" stroke-width="0.9" />
<path d="M413.5,247.92 L424.5,248.97 Q429,250.69 424.5,252.41 L413.5,253.46 M413.5,255.78 L424.5,257.54 Q429,260.42 424.5,263.29 L413.5,265.05 M413.5,268.35 L424.5,270.58 Q429,274.22 424.5,277.86 L413.5,280.09 M413.5,283.90 L424.5,286.29 Q429,290.20 424.5,294.11 L413.5,296.50 M413.5,300.31 L424.5,302.54 Q429,306.18 424.5,309.82 L413.5,312.05 M413.5,315.35 L424.5,317.11 Q429,319.98 424.5,322.86 L413.5,324.62 M413.5,326.94 L424.5,327.99 Q429,329.71 424.5,331.43 L413.5,332.48 " stroke="#333" stroke-width="1.5" fill="none" />
<line x1="417.8" y1="250" x2="417.8" y2="331" stroke="#aaa" stroke-width="0.8" />
<line x1="426.3" y1="247" x2="426.3" y2="334" stroke="#999" stroke-width="0.8" />
<path d="M503,267.6 H508 V272 H503 Z" stroke="#999" stroke-width="0.7" fill="none" />
<path d="M777.5,216.9 V248.7" stroke="#666" stroke-width="1" fill="none" stroke-dasharray="4 2"/>
<path d="M775.6,188.1 V174.4 A2.05,2.05 0 0 1 779.7,174.4 V188.1 Z" stroke="#555" stroke-width="0.9" fill="none" />
<path d="M776.6,188.1 V196.3 H778.7 V188.1" stroke="#666" stroke-width="0.8" fill="none" />
<line x1="777.65" y1="196.3" x2="777.65" y2="208" stroke="#aaa" stroke-width="1.8" />
<path d="M775.6,208.5 H779.7 L780.3,216.5 H775 Z" stroke="#555" stroke-width="0.9" fill="none" />
<path d="M775.5,211 H779.8 M775.3,213.5 H780" stroke="#888" stroke-width="0.6" fill="none" /></g>
</svg></body></html>
